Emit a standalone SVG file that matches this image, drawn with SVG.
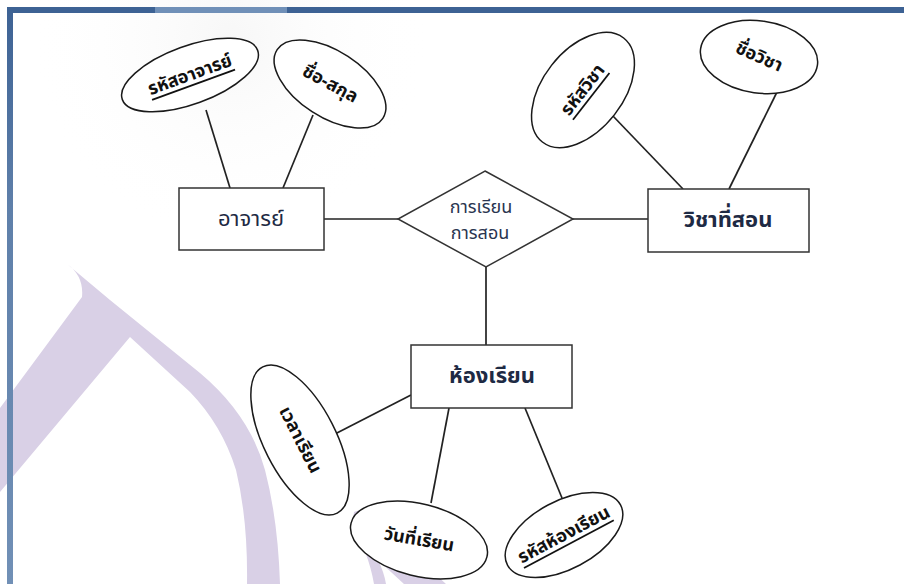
<svg xmlns="http://www.w3.org/2000/svg" width="904" height="584" viewBox="0 0 904 584">
  <defs>
    <linearGradient id="leftBar" x1="0" y1="0" x2="0" y2="1">
      <stop offset="0" stop-color="#3d6294"/>
      <stop offset="0.35" stop-color="#5f80aa"/>
      <stop offset="1" stop-color="#7190b6"/>
    </linearGradient>
    <radialGradient id="haze" cx="230" cy="40" r="200" gradientUnits="userSpaceOnUse">
      <stop offset="0" stop-color="#f7f7f7"/>
      <stop offset="1" stop-color="#ffffff" stop-opacity="0"/>
    </radialGradient>
  </defs>
  <style>
    .attr { fill: #ffffff; stroke: #1a1a1a; stroke-width: 1.5; }
    .box { fill: #ffffff; stroke: #333333; stroke-width: 1.5; }
    .link { stroke: #222222; stroke-width: 1.7; fill: none; }
    .atxt { font-family: "Noto Sans Thai", "Tahoma", "DejaVu Sans", sans-serif; font-size: 18px; font-weight: bold; fill: #111111; text-anchor: middle; dominant-baseline: central; }
    .key { text-decoration: underline; }
    .etxt { font-family: "Noto Sans Thai", "Tahoma", "DejaVu Sans", sans-serif; font-size: 22px; fill: #1e2a44; text-anchor: middle; dominant-baseline: central; }
    .rtxt { font-family: "Noto Sans Thai", "Tahoma", "DejaVu Sans", sans-serif; font-size: 18px; fill: #2a3550; text-anchor: middle; }
    .mark { fill: #d9d0e6; }
  </style>

  <!-- page background and frame -->
  <rect x="0" y="0" width="904" height="584" fill="#ffffff"/>
  <rect x="0" y="0" width="904" height="300" fill="url(#haze)"/>

  <!-- watermark strokes -->
  <path class="mark" d="M67,264 L110,300 L200,373 Q250,415 265,470 Q278,520 280,584 L247,584 Q248,520 236,470 Q222,425 190,392 L130,337 L0,492 L0,408 L82,297 Q84,276 67,264 Z"/>
  <path class="mark" d="M354,512 Q362,508 372,516 L446,584 L404,584 L378,560 Q384,572 386,584 L374,584 Q368,550 352,528 Z"/>

  <rect x="7" y="7" width="897" height="6" fill="#3d6294"/>
  <rect x="155" y="7" width="132" height="6" fill="#7090b8"/>
  <rect x="7" y="7" width="6" height="577" fill="url(#leftBar)"/>

  <!-- connectors -->
  <g id="connectors">
    <line class="link" x1="206" y1="110" x2="230" y2="188"/>
    <line class="link" x1="313" y1="115" x2="283" y2="188"/>
    <line class="link" x1="324" y1="219" x2="398" y2="219"/>
    <line class="link" x1="573" y1="219" x2="648" y2="219"/>
    <line class="link" x1="612" y1="115" x2="683" y2="189"/>
    <line class="link" x1="777" y1="92" x2="729" y2="189"/>
    <line class="link" x1="486" y1="267" x2="486" y2="345"/>
    <line class="link" x1="411" y1="395" x2="333" y2="435"/>
    <line class="link" x1="449" y1="408" x2="431" y2="503"/>
    <line class="link" x1="525" y1="408" x2="562" y2="498"/>
  </g>

  <!-- entity: teacher -->
  <g id="teacher">
    <rect class="box" x="179" y="188" width="145" height="62"/>
    <text class="etxt" x="251" y="219">อาจารย์</text>
  </g>

  <g id="teacher-id" transform="translate(190,75) rotate(-20)">
    <ellipse class="attr" cx="0" cy="0" rx="72" ry="29"/>
    <text class="atxt key" x="0" y="0">รหัสอาจารย์</text>
  </g>

  <g id="teacher-name" transform="translate(330,84) rotate(33)">
    <ellipse class="attr" cx="0" cy="0" rx="63" ry="33"/>
    <text class="atxt" x="0" y="0" transform="rotate(-5)">ชื่อ-สกุล</text>
  </g>

  <!-- relationship -->
  <g id="teaching">
    <polygon class="box" points="485,171 573,219 486,267 398,219"/>
    <text class="rtxt" x="481" y="213">การเรียน</text>
    <text class="rtxt" x="480" y="239">การสอน</text>
  </g>

  <!-- entity: subject -->
  <g id="subject">
    <rect class="box" x="648" y="189" width="161" height="63"/>
    <text class="etxt" x="728" y="220" font-weight="bold">วิชาที่สอน</text>
  </g>

  <g id="subject-id" transform="translate(583,90) rotate(-52)">
    <ellipse class="attr" cx="0" cy="0" rx="66" ry="40"/>
    <text class="atxt key" x="0" y="0">รหัสวิชา</text>
  </g>

  <g id="subject-name" transform="translate(759,57) rotate(8)">
    <ellipse class="attr" cx="0" cy="0" rx="59" ry="36"/>
    <text class="atxt" x="0" y="0" transform="rotate(16)">ชื่อวิชา</text>
  </g>

  <!-- entity: classroom -->
  <g id="classroom">
    <rect class="box" x="411" y="345" width="161" height="63"/>
    <text class="etxt" x="492" y="376" font-weight="bold">ห้องเรียน</text>
  </g>

  <g id="class-time" transform="translate(300,440) rotate(63)">
    <ellipse class="attr" cx="0" cy="0" rx="82" ry="36"/>
    <text class="atxt" x="0" y="0">เวลาเรียน</text>
  </g>

  <g id="class-date" transform="translate(419,540) rotate(14)">
    <ellipse class="attr" cx="0" cy="0" rx="70" ry="36"/>
    <text class="atxt" x="0" y="0" transform="rotate(-4)">วันที่เรียน</text>
  </g>

  <g id="room-id" transform="translate(564,535) rotate(-28)">
    <ellipse class="attr" cx="0" cy="0" rx="64" ry="34"/>
    <text class="atxt key" x="0" y="0">รหัสห้องเรียน</text>
  </g>
</svg>
